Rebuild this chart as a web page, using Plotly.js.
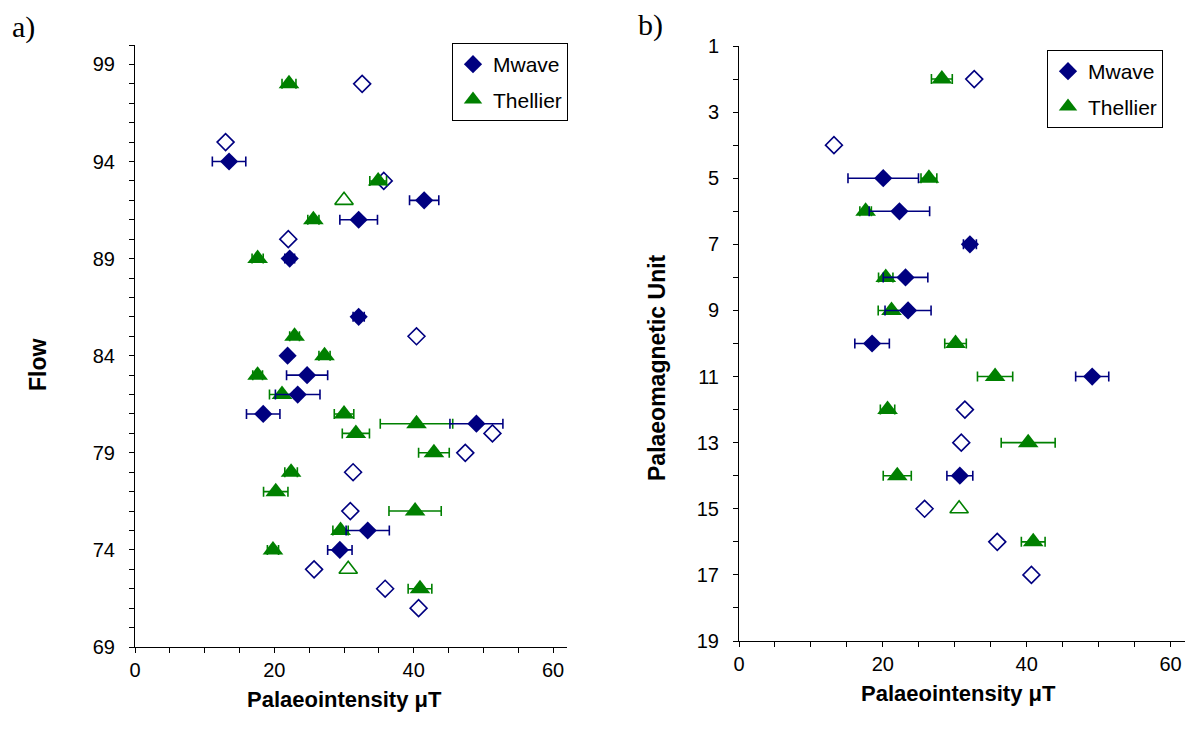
<!DOCTYPE html>
<html>
<head>
<meta charset="utf-8">
<script src="https://cdn.plot.ly/plotly-3.0.1.min.js"></script>
<style>
html,body{margin:0;padding:0;background:#fff;}
#chart{width:1187px;height:740px;}
</style>
</head>
<body>
<div id="chart"></div>
<script>
// ---------- Panel a: Flow ----------
const flowMwX   = [13.5, 41.5, 32.1, 22.2, 32.1, 21.9, 24.7, 23.35, 18.4, 49.0, 33.4, 29.4];
const flowMwY   = [94, 92, 91, 89, 86, 84, 83, 82, 81, 80.5, 75, 74];
const flowMwErr = [2.4, 2.1, 2.7, 0.7, 0.8, 0.2, 2.95, 3.2, 2.4, 3.8, 3.1, 1.75];
const flowMwOpenX = [32.6, 13.0, 35.7, 22.0, 40.4, 51.3, 47.4, 31.3, 30.9, 25.7, 35.9, 40.7];
const flowMwOpenY = [98, 95, 93, 90, 85, 80, 79, 78, 76, 73, 72, 71];
const flowThX   = [22.1, 34.9, 25.6, 17.6, 22.9, 27.2, 17.6, 21.1, 30.0, 40.4, 31.7, 42.9, 22.4, 20.2, 40.2, 29.5, 19.8, 40.9];
const flowThY   = [98, 93, 91, 89, 85, 84, 83, 82, 81, 80.5, 80, 79, 78, 77, 76, 75, 74, 72];
const flowThErr = [1.0, 1.2, 0.8, 0.8, 0.7, 0.8, 0.7, 1.8, 1.4, 5.2, 1.95, 2.2, 0.9, 1.75, 3.75, 1.1, 0.8, 1.7];
const flowThOpenX = [30.0, 30.6];
const flowThOpenY = [92, 73];

// ---------- Panel b: Palaeomagnetic Unit ----------
const unitMwX   = [20.05, 22.3, 32.1, 23.15, 23.5, 18.5, 49.1, 30.7];
const unitMwY   = [5, 6, 7, 8, 9, 10, 11, 14];
const unitMwErr = [4.9, 4.2, 0.9, 3.1, 3.2, 2.4, 2.3, 1.8];
const unitMwOpenX = [32.7, 13.2, 31.4, 30.9, 25.8, 35.9, 40.65];
const unitMwOpenY = [2, 4, 12, 13, 15, 16, 17];
const unitThX   = [28.2, 26.4, 17.6, 20.4, 21.2, 30.1, 35.6, 20.65, 40.2, 22.0, 40.9];
const unitThY   = [2, 5, 6, 8, 9, 10, 11, 12, 13, 14, 16];
const unitThErr = [1.45, 1.1, 0.8, 1.0, 1.85, 1.5, 2.45, 1.0, 3.75, 1.95, 1.65];
const unitThOpenX = [30.6];
const unitThOpenY = [15];

const seriesNames = ['Mwave', 'Thellier'];
const xTitle = 'Palaeointensity μT';

const NAVY = '#000080', GREEN = '#008000';
const FONT = 'Liberation Sans, Arial, sans-serif';
const DSIZE = 14, TSIZE = 18;

function openTrace(x, y, sym, color, xa, ya, size) {
  return {x, y, xaxis: xa, yaxis: ya, type: 'scatter', mode: 'markers', showlegend: false,
    marker: {symbol: sym, size: size, color: color, line: {color: color, width: 1.6}}, hoverinfo: 'x+y'};
}
function filledTrace(x, y, err, sym, color, name, xa, ya, legend, rank, size) {
  return {x, y, xaxis: xa, yaxis: ya, type: 'scatter', mode: 'markers', name: name,
    legend: legend, legendrank: rank, legendgroup: name,
    marker: {symbol: sym, size: size, color: color, line: {width: 0}},
    error_x: {type: 'data', array: err, visible: true, color: color, thickness: 1.6, width: 5}};
}

const data = [
  openTrace(flowMwOpenX, flowMwOpenY, 'diamond-open', NAVY, 'x', 'y', DSIZE - 1),
  openTrace(flowThOpenX, flowThOpenY, 'triangle-up-open', GREEN, 'x', 'y', TSIZE - 2),
  filledTrace(flowThX, flowThY, flowThErr, 'triangle-up', GREEN, seriesNames[1], 'x', 'y', 'legend', 2, TSIZE),
  filledTrace(flowMwX, flowMwY, flowMwErr, 'diamond', NAVY, seriesNames[0], 'x', 'y', 'legend', 1, DSIZE),

  openTrace(unitMwOpenX, unitMwOpenY, 'diamond-open', NAVY, 'x2', 'y2', DSIZE - 1),
  openTrace(unitThOpenX, unitThOpenY, 'triangle-up-open', GREEN, 'x2', 'y2', TSIZE - 2),
  filledTrace(unitThX, unitThY, unitThErr, 'triangle-up', GREEN, seriesNames[1], 'x2', 'y2', 'legend2', 2, TSIZE),
  filledTrace(unitMwX, unitMwY, unitMwErr, 'diamond', NAVY, seriesNames[0], 'x2', 'y2', 'legend2', 1, DSIZE)
];

const W = 1187, H = 740;
const tickFont = {family: FONT, size: 20, color: '#000'};
function xAxis(l, r, anchor) {
  return {domain: [l / W, r / W], anchor: anchor, range: [0, 62], tick0: 0, dtick: 20,
    showgrid: false, zeroline: false, showline: true, linecolor: '#000', linewidth: 1,
    ticks: 'outside', ticklen: 5, tickcolor: '#000', tickwidth: 1, tickfont: tickFont,
    ticklabelstandoff: 0,
    minor: {dtick: 5, ticks: 'outside', ticklen: 5, tickcolor: '#000', tickwidth: 1, showgrid: false}};
}
const legendBase = {xanchor: 'left', yanchor: 'top', bgcolor: '#fff', bordercolor: '#000', borderwidth: 1,
  font: {family: FONT, size: 21, color: '#000'}, traceorder: 'grouped', tracegroupgap: 5};
const layout = {
  width: W, height: H,
  margin: {l: 0, r: 0, t: 0, b: 0},
  paper_bgcolor: '#fff', plot_bgcolor: '#fff',
  showlegend: true,
  xaxis: xAxis(135, 567, 'y'),
  yaxis: {domain: [1 - 647 / H, 1 - 45 / H], anchor: 'x', range: [69, 100], tick0: 69, dtick: 5,
    showgrid: false, zeroline: false, showline: true, linecolor: '#000', linewidth: 1,
    ticks: 'outside', ticklen: 5, tickcolor: '#000', tickwidth: 1, tickfont: tickFont,
    ticklabelstandoff: 10,
    minor: {dtick: 1, ticks: 'outside', ticklen: 5, tickcolor: '#000', tickwidth: 1, showgrid: false}},
  xaxis2: xAxis(739, 1185, 'y2'),
  yaxis2: {domain: [1 - 641 / H, 1 - 46 / H], anchor: 'x2', range: [19, 1], tick0: 1, dtick: 2,
    showgrid: false, zeroline: false, showline: true, linecolor: '#000', linewidth: 1,
    ticks: 'outside', ticklen: 5, tickcolor: '#000', tickwidth: 1, tickfont: tickFont,
    ticklabelstandoff: 10,
    minor: {dtick: 1, ticks: 'outside', ticklen: 5, tickcolor: '#000', tickwidth: 1, showgrid: false}},
  legend: Object.assign({}, legendBase, {x: 452 / W, y: 1 - 43 / H}),
  legend2: Object.assign({}, legendBase, {x: 1047 / W, y: 1 - 50 / H}),
  annotations: [
    {text: 'a)', xref: 'paper', yref: 'paper', x: 10 / W, y: 1 - 8 / H, xanchor: 'left', yanchor: 'top',
      showarrow: false, font: {family: 'Liberation Serif, Times New Roman, serif', size: 30, color: '#000'}},
    {text: 'b)', xref: 'paper', yref: 'paper', x: 636 / W, y: 1 - 6 / H, xanchor: 'left', yanchor: 'top',
      showarrow: false, font: {family: 'Liberation Serif, Times New Roman, serif', size: 30, color: '#000'}},
    {text: '<b>' + xTitle + '</b>', xref: 'paper', yref: 'paper', x: 344 / W, y: 1 - 699 / H,
      xanchor: 'center', yanchor: 'middle', showarrow: false, font: {family: FONT, size: 22, color: '#000'}},
    {text: '<b>' + xTitle + '</b>', xref: 'paper', yref: 'paper', x: 958 / W, y: 1 - 693 / H,
      xanchor: 'center', yanchor: 'middle', showarrow: false, font: {family: FONT, size: 22, color: '#000'}},
    {text: '<b>Flow</b>', xref: 'paper', yref: 'paper', x: 38 / W, y: 1 - 365 / H, textangle: -90,
      xanchor: 'center', yanchor: 'middle', showarrow: false, font: {family: FONT, size: 23, color: '#000'}},
    {text: '<b>Palaeomagnetic Unit</b>', xref: 'paper', yref: 'paper', x: 657 / W, y: 1 - 368 / H, textangle: -90,
      xanchor: 'center', yanchor: 'middle', showarrow: false, font: {family: FONT, size: 23, color: '#000'}}
  ]
};

Plotly.newPlot('chart', data, layout, {displayModeBar: false, staticPlot: true});
</script>
</body>
</html>
